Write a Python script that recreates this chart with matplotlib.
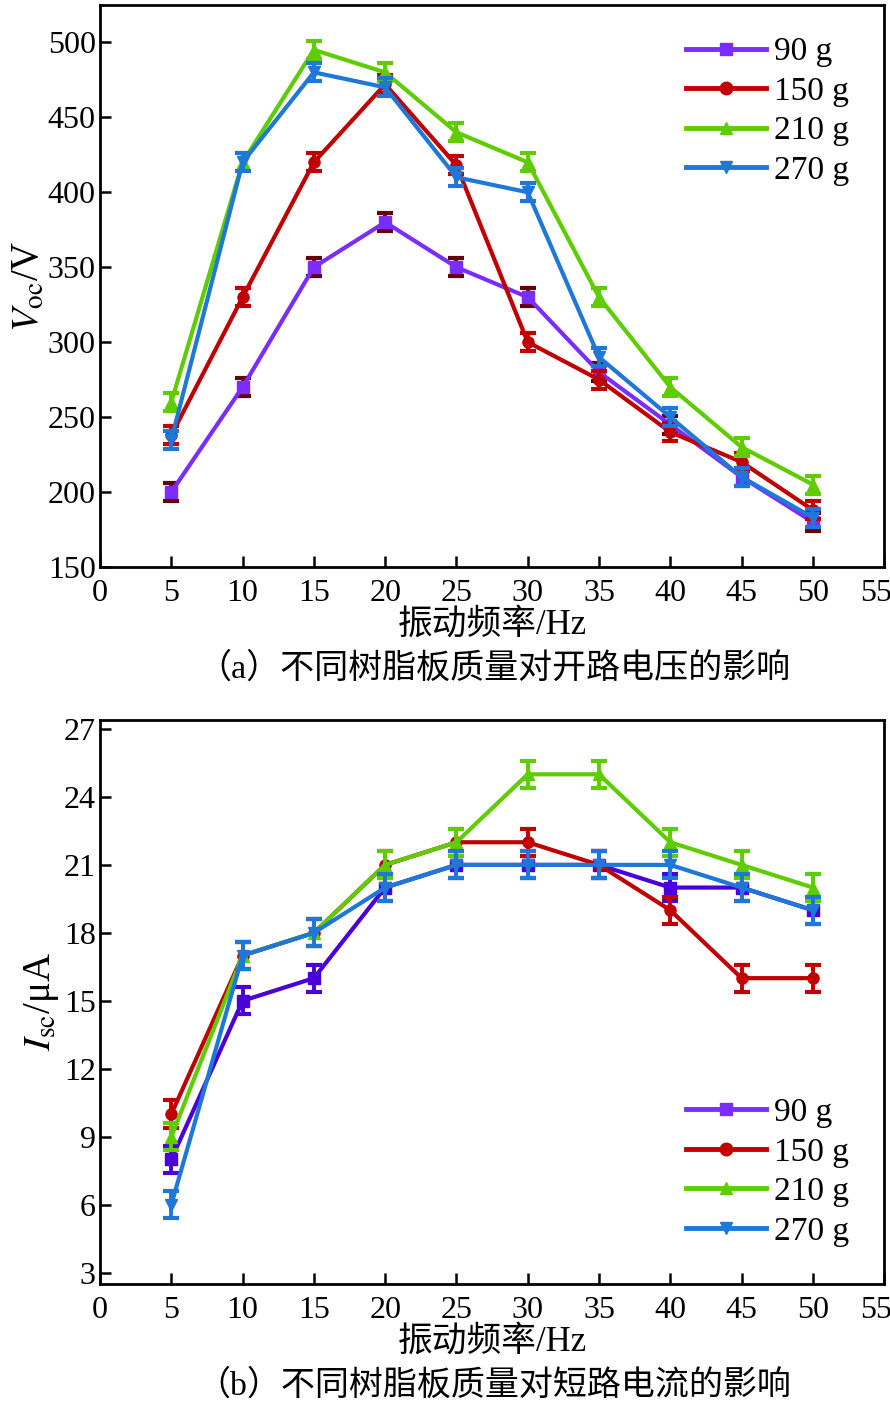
import numpy as np
import matplotlib
matplotlib.use("Agg")
import matplotlib.pyplot as plt
from matplotlib.transforms import ScaledTranslation

plt.rcParams['font.family'] = ['Liberation Serif', 'Noto Sans CJK SC']
plt.rcParams['mathtext.fontset'] = 'stix'

freq = [5, 10, 15, 20, 25, 30, 35, 40, 45, 50]
labels = ["90 g", "150 g", "210 g", "270 g"]

# (a) open-circuit voltage, V
voc_90 = [200, 270, 350, 380, 350, 330, 280, 245, 210, 180]
voc_150 = [238, 330, 420, 472, 418, 300, 275, 240, 220, 188]
voc_210 = [260, 420, 495, 480, 440, 420, 330, 270, 230, 205]
voc_270 = [235, 420, 480, 470, 410, 400, 290, 250, 210, 183]
voc_err = 6

# (b) short-circuit current, uA
isc_90 = [8, 15, 16, 20, 21, 21, 21, 20, 20, 19]
isc_150 = [10, 17, 18, 21, 22, 22, 21, 19, 16, 16]
isc_210 = [9, 17, 18, 21, 22, 25, 25, 22, 21, 20]
isc_270 = [6, 17, 18, 20, 21, 21, 21, 21, 20, 19]
isc_err = 0.6

colors = ["#7b2cff", "#c00000", "#5fcc00", "#1f78d8"]
markers = ["s", "o", "^", "v"]
ecol_a = ["#660000", "#c00000", "#5fcc00", "#1f78d8"]
ecol_b = ["#4a00d8", "#c00000", "#5fcc00", "#1f78d8"]
line_b = ["#4a00d8", "#c00000", "#5fcc00", "#1f78d8"]

fig = plt.figure(figsize=(8.9, 14.02), dpi=100)
ax1 = fig.add_axes([0.1124, 0.5956, 0.881, 0.4009])
ax2 = fig.add_axes([0.1124, 0.0842, 0.881, 0.4023])


def draw(ax, series, err, lcols, ecols):
    for i, y in enumerate(series):
        ax.errorbar(freq, y, yerr=err, color=lcols[i], ecolor=ecols[i],
                    marker=markers[i], markersize=8, linewidth=3,
                    elinewidth=2.8, capsize=5.5, capthick=3, zorder=3 + i)
        ax.plot([], [], color=colors[i], marker=markers[i], markersize=9,
                linewidth=3.5, label=labels[i])
    ax.set_xlim(0, 55)
    ax.set_xticks(range(0, 56, 5))
    ax.tick_params(direction="in", length=8, width=1.8, labelsize=23,
                   top=False, right=False, pad=3)
    ax.tick_params(axis="x", pad=9)
    for s in ax.spines.values():
        s.set_linewidth(2)
    # last label sits a little left of its tick, as in the source figure
    last = ax.get_xticklabels()[-1]
    last.set_transform(last.get_transform() +
                       ScaledTranslation(-8 / 100, 0, fig.dpi_scale_trans))
    ax.set_xlabel("振动频率/Hz", fontsize=25, labelpad=0)


draw(ax1, [voc_90, voc_150, voc_210, voc_270], voc_err, colors, ecol_a)
ax1.set_ylim(150, 525)
ax1.set_yticks(range(150, 501, 50))
ax1.set_ylabel("$V_{\\rm oc}$/V", fontsize=28, labelpad=0)
ax1.legend(loc="upper right", frameon=False, fontsize=24, handlelength=2.4,
           handletextpad=0.25, labelspacing=0.27, borderaxespad=0.3,
           bbox_to_anchor=(0.985, 0.985))
fig.text(0.555, 0.5235, "（a）不同树脂板质量对开路电压的影响", ha="center",
         va="center", fontsize=24.5)

draw(ax2, [isc_90, isc_150, isc_210, isc_270], isc_err, line_b, ecol_b)
ax2.set_ylim(2.5, 27.4)
ax2.set_yticks(range(3, 28, 3))
ax2.set_ylabel("$I_{\\rm sc}$/μA", fontsize=28, labelpad=2)
ax2.legend(loc="lower right", frameon=False, fontsize=24, handlelength=2.4,
           handletextpad=0.25, labelspacing=0.27, borderaxespad=0.3,
           bbox_to_anchor=(0.985, 0.025))
fig.text(0.555, 0.012, "（b）不同树脂板质量对短路电流的影响", ha="center",
         va="center", fontsize=24.5)

fig.savefig("out.png", dpi=100)
